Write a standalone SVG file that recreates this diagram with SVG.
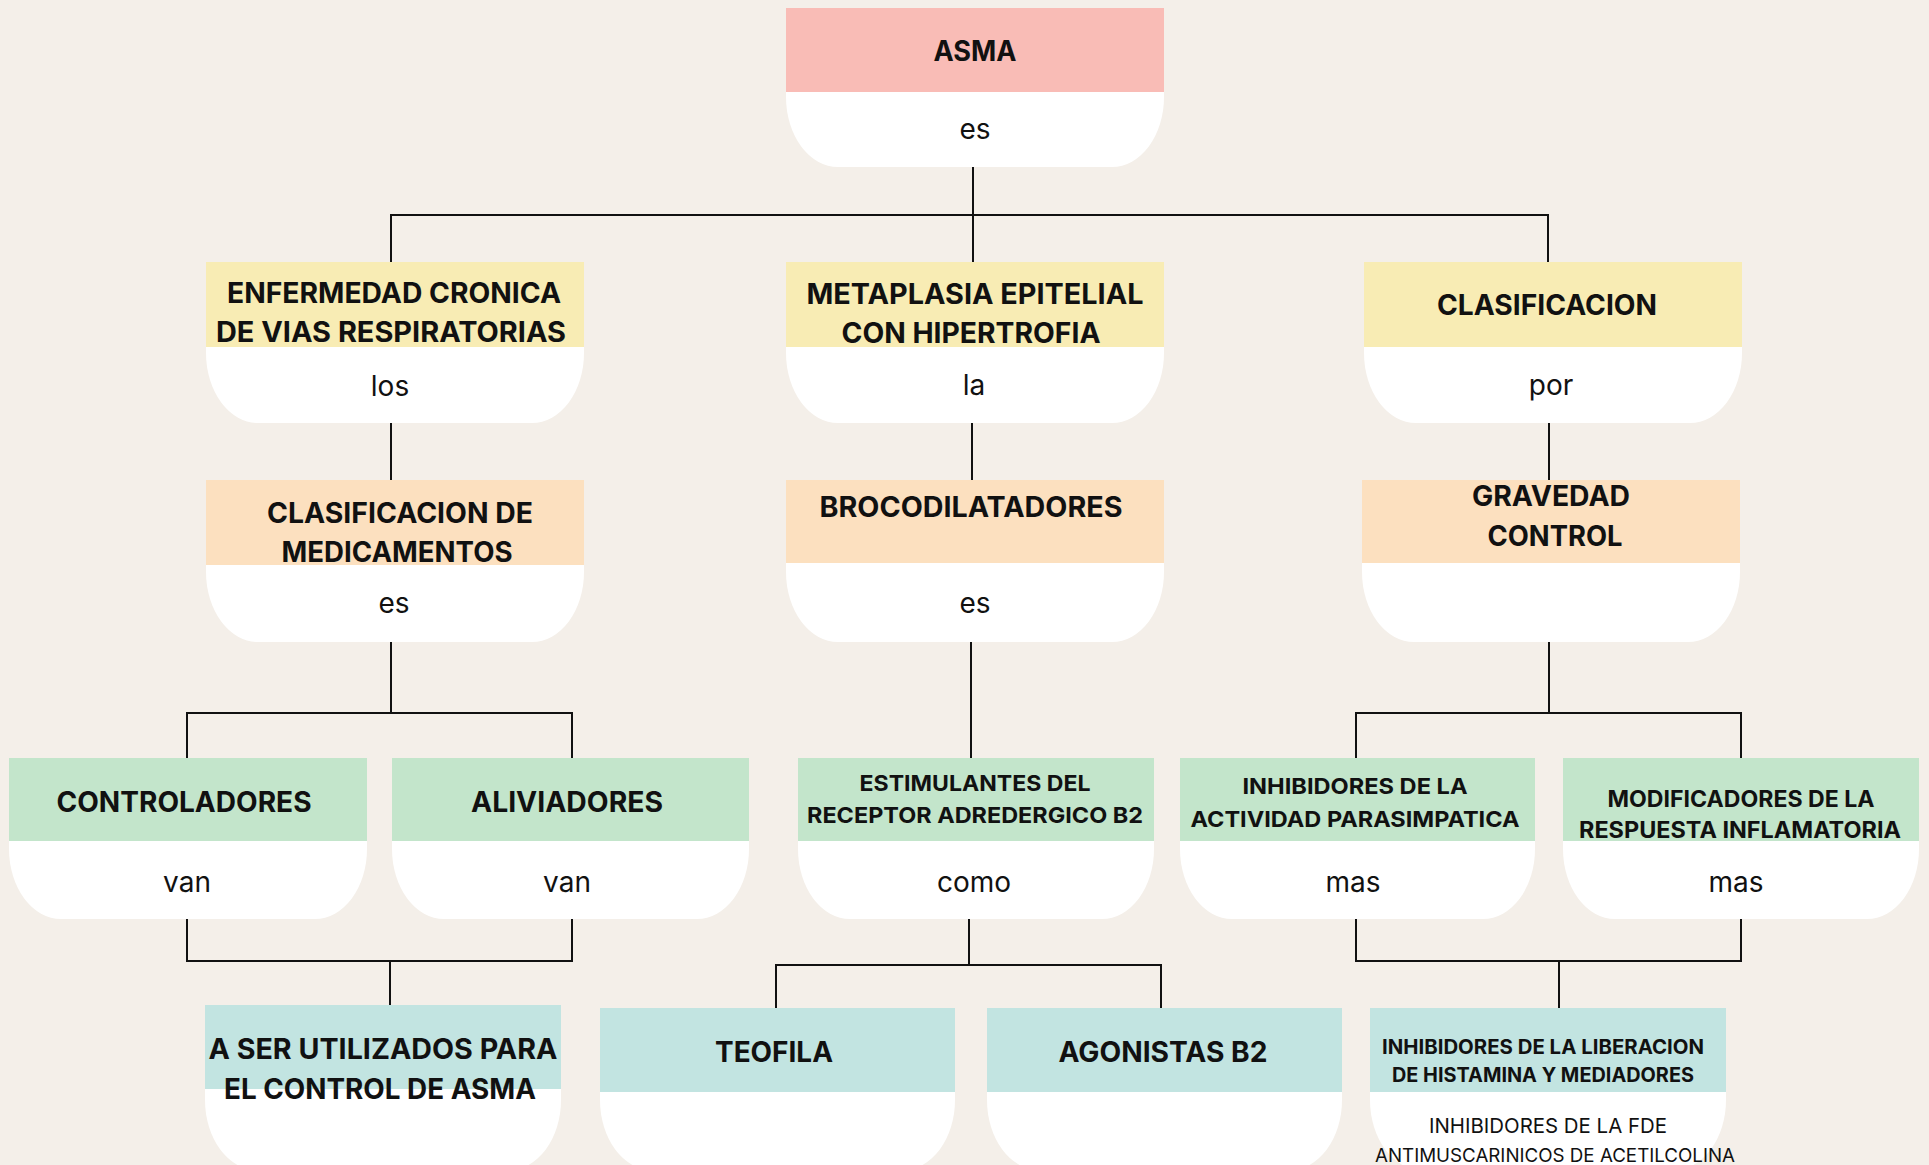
<svg xmlns="http://www.w3.org/2000/svg" width="1929" height="1165" viewBox="0 0 1929 1165">
<style>
.bg{fill:#f4efe9}
.w{fill:#ffffff}
.pink{fill:#f9bcb6}
.yel{fill:#f8ecb4}
.pea{fill:#fce0bf}
.grn{fill:#c3e5cb}
.teal{fill:#c2e4e1}
.t{font-family:Inter,"Noto Sans","Liberation Sans",sans-serif;font-weight:700;fill:#111;text-anchor:middle}
.r{font-family:Inter,"Noto Sans","Liberation Sans",sans-serif;font-weight:400;fill:#111;text-anchor:middle}
.c{fill:none;stroke:#111;stroke-width:2}
</style>
<rect class="bg" x="0" y="0" width="1929" height="1165"/>
<g id="connectors">
<path class="c" d="M973 167V262M391 262V215H1548V262"/>
<path class="c" d="M391 423V480M972 423V480M1549 423V480"/>
<path class="c" d="M391 642V713M187 758V713H572V758"/>
<path class="c" d="M971 642V758"/>
<path class="c" d="M1549 642V713M1356 758V713H1741V758"/>
<path class="c" d="M187 919V961H572V919M390 961V1005"/>
<path class="c" d="M969 919V965M776 1008V965H1161V1008"/>
<path class="c" d="M1356 919V961H1741V919M1559 961V1008"/>
</g>
<g id="n-asma">
<path class="w" d="M786 92H1164V97A52 70 0 0 1 1112 167H838A52 70 0 0 1 786 97Z"/>
<rect class="pink" x="786" y="8" width="378" height="84"/>
<text class="t" x="975" y="61" font-size="28" textLength="83" lengthAdjust="spacingAndGlyphs">ASMA</text>
<text class="r" x="975" y="139" font-size="28">es</text>
</g>
<g id="n-enfermedad">
<path class="w" d="M206 347H584V353A52 70 0 0 1 532 423H258A52 70 0 0 1 206 353Z"/>
<rect class="yel" x="206" y="262" width="378" height="85"/>
<text class="t" x="394" y="303" font-size="28" textLength="334" lengthAdjust="spacingAndGlyphs">ENFERMEDAD CRONICA</text>
<text class="t" x="391" y="342" font-size="28" textLength="350" lengthAdjust="spacingAndGlyphs">DE VIAS RESPIRATORIAS</text>
<text class="r" x="390" y="396" font-size="28">los</text>
</g>
<g id="n-metaplasia">
<path class="w" d="M786 347H1164V353A52 70 0 0 1 1112 423H838A52 70 0 0 1 786 353Z"/>
<rect class="yel" x="786" y="262" width="378" height="85"/>
<text class="t" x="975" y="304" font-size="28" textLength="337" lengthAdjust="spacingAndGlyphs">METAPLASIA EPITELIAL</text>
<text class="t" x="971" y="343" font-size="28" textLength="259" lengthAdjust="spacingAndGlyphs">CON HIPERTROFIA</text>
<text class="r" x="974" y="395" font-size="28">la</text>
</g>
<g id="n-clasificacion">
<path class="w" d="M1364 347H1742V353A52 70 0 0 1 1690 423H1416A52 70 0 0 1 1364 353Z"/>
<rect class="yel" x="1364" y="262" width="378" height="85"/>
<text class="t" x="1547" y="315" font-size="28" textLength="220" lengthAdjust="spacingAndGlyphs">CLASIFICACION</text>
<text class="r" x="1551" y="395" font-size="28">por</text>
</g>
<g id="n-medicamentos">
<path class="w" d="M206 565H584V572A52 70 0 0 1 532 642H258A52 70 0 0 1 206 572Z"/>
<rect class="pea" x="206" y="480" width="378" height="85"/>
<text class="t" x="400" y="523" font-size="28" textLength="266" lengthAdjust="spacingAndGlyphs">CLASIFICACION DE</text>
<text class="t" x="397" y="562" font-size="28" textLength="231" lengthAdjust="spacingAndGlyphs">MEDICAMENTOS</text>
<text class="r" x="394" y="613" font-size="28">es</text>
</g>
<g id="n-brocodilatadores">
<path class="w" d="M786 563H1164V572A52 70 0 0 1 1112 642H838A52 70 0 0 1 786 572Z"/>
<rect class="pea" x="786" y="480" width="378" height="83"/>
<text class="t" x="971" y="517" font-size="28" textLength="303" lengthAdjust="spacingAndGlyphs">BROCODILATADORES</text>
<text class="r" x="975" y="613" font-size="28">es</text>
</g>
<g id="n-gravedad">
<path class="w" d="M1362 563H1740V572A52 70 0 0 1 1688 642H1414A52 70 0 0 1 1362 572Z"/>
<rect class="pea" x="1362" y="480" width="378" height="83"/>
<text class="t" x="1551" y="506" font-size="28" textLength="158" lengthAdjust="spacingAndGlyphs">GRAVEDAD</text>
<text class="t" x="1555" y="546" font-size="28" textLength="135" lengthAdjust="spacingAndGlyphs">CONTROL</text>
</g>
<g id="n-controladores">
<path class="w" d="M9 841H367V849A52 70 0 0 1 315 919H61A52 70 0 0 1 9 849Z"/>
<rect class="grn" x="9" y="758" width="358" height="83"/>
<text class="t" x="184" y="812" font-size="28" textLength="255" lengthAdjust="spacingAndGlyphs">CONTROLADORES</text>
<text class="r" x="187" y="892" font-size="28">van</text>
</g>
<g id="n-aliviadores">
<path class="w" d="M392 841H749V849A52 70 0 0 1 697 919H444A52 70 0 0 1 392 849Z"/>
<rect class="grn" x="392" y="758" width="357" height="83"/>
<text class="t" x="567" y="812" font-size="28" textLength="192" lengthAdjust="spacingAndGlyphs">ALIVIADORES</text>
<text class="r" x="567" y="892" font-size="28">van</text>
</g>
<g id="n-estimulantes">
<path class="w" d="M798 841H1154V849A52 70 0 0 1 1102 919H850A52 70 0 0 1 798 849Z"/>
<rect class="grn" x="798" y="758" width="356" height="83"/>
<text class="t" x="975" y="791" font-size="22" textLength="231" lengthAdjust="spacingAndGlyphs">ESTIMULANTES DEL</text>
<text class="t" x="975" y="823" font-size="22" textLength="336" lengthAdjust="spacingAndGlyphs">RECEPTOR ADREDERGICO B2</text>
<text class="r" x="974" y="892" font-size="28">como</text>
</g>
<g id="n-inhibidores-act">
<path class="w" d="M1180 841H1535V849A52 70 0 0 1 1483 919H1232A52 70 0 0 1 1180 849Z"/>
<rect class="grn" x="1180" y="758" width="355" height="83"/>
<text class="t" x="1355" y="794" font-size="22" textLength="225" lengthAdjust="spacingAndGlyphs">INHIBIDORES DE LA</text>
<text class="t" x="1355" y="827" font-size="22" textLength="329" lengthAdjust="spacingAndGlyphs">ACTIVIDAD PARASIMPATICA</text>
<text class="r" x="1353" y="892" font-size="28">mas</text>
</g>
<g id="n-modificadores">
<path class="w" d="M1563 841H1919V849A52 70 0 0 1 1867 919H1615A52 70 0 0 1 1563 849Z"/>
<rect class="grn" x="1563" y="758" width="356" height="83"/>
<text class="t" x="1741" y="807" font-size="22.5" textLength="267" lengthAdjust="spacingAndGlyphs">MODIFICADORES DE LA</text>
<text class="t" x="1740" y="838" font-size="22.5" textLength="322" lengthAdjust="spacingAndGlyphs">RESPUESTA INFLAMATORIA</text>
<text class="r" x="1736" y="892" font-size="28">mas</text>
</g>
<g id="n-aser">
<path class="w" d="M205 1089H561V1100A52 70 0 0 1 509 1170H257A52 70 0 0 1 205 1100Z"/>
<rect class="teal" x="205" y="1005" width="356" height="84"/>
<text class="t" x="383" y="1059" font-size="28" textLength="349" lengthAdjust="spacingAndGlyphs">A SER UTILIZADOS PARA</text>
<text class="t" x="380" y="1099" font-size="28" textLength="312" lengthAdjust="spacingAndGlyphs">EL CONTROL DE ASMA</text>
</g>
<g id="n-teofila">
<path class="w" d="M600 1092H955V1100A52 70 0 0 1 903 1170H652A52 70 0 0 1 600 1100Z"/>
<rect class="teal" x="600" y="1008" width="355" height="84"/>
<text class="t" x="774" y="1062" font-size="28" textLength="118" lengthAdjust="spacingAndGlyphs">TEOFILA</text>
</g>
<g id="n-agonistas">
<path class="w" d="M987 1092H1342V1100A52 70 0 0 1 1290 1170H1039A52 70 0 0 1 987 1100Z"/>
<rect class="teal" x="987" y="1008" width="355" height="84"/>
<text class="t" x="1163" y="1062" font-size="28" textLength="209" lengthAdjust="spacingAndGlyphs">AGONISTAS B2</text>
</g>
<g id="n-inhibidores-lib">
<path class="w" d="M1370 1092H1726V1100A52 70 0 0 1 1674 1170H1422A52 70 0 0 1 1370 1100Z"/>
<rect class="teal" x="1370" y="1008" width="356" height="84"/>
<text class="t" x="1543" y="1054" font-size="20" textLength="322" lengthAdjust="spacingAndGlyphs">INHIBIDORES DE LA LIBERACION</text>
<text class="t" x="1543" y="1082" font-size="20" textLength="302" lengthAdjust="spacingAndGlyphs">DE HISTAMINA Y MEDIADORES</text>
<text class="r" x="1548" y="1133" font-size="20.5" textLength="238" lengthAdjust="spacingAndGlyphs">INHIBIDORES DE LA FDE</text>
<text class="r" x="1555" y="1162" font-size="19" textLength="360" lengthAdjust="spacingAndGlyphs">ANTIMUSCARINICOS DE ACETILCOLINA</text>
</g>
</svg>
